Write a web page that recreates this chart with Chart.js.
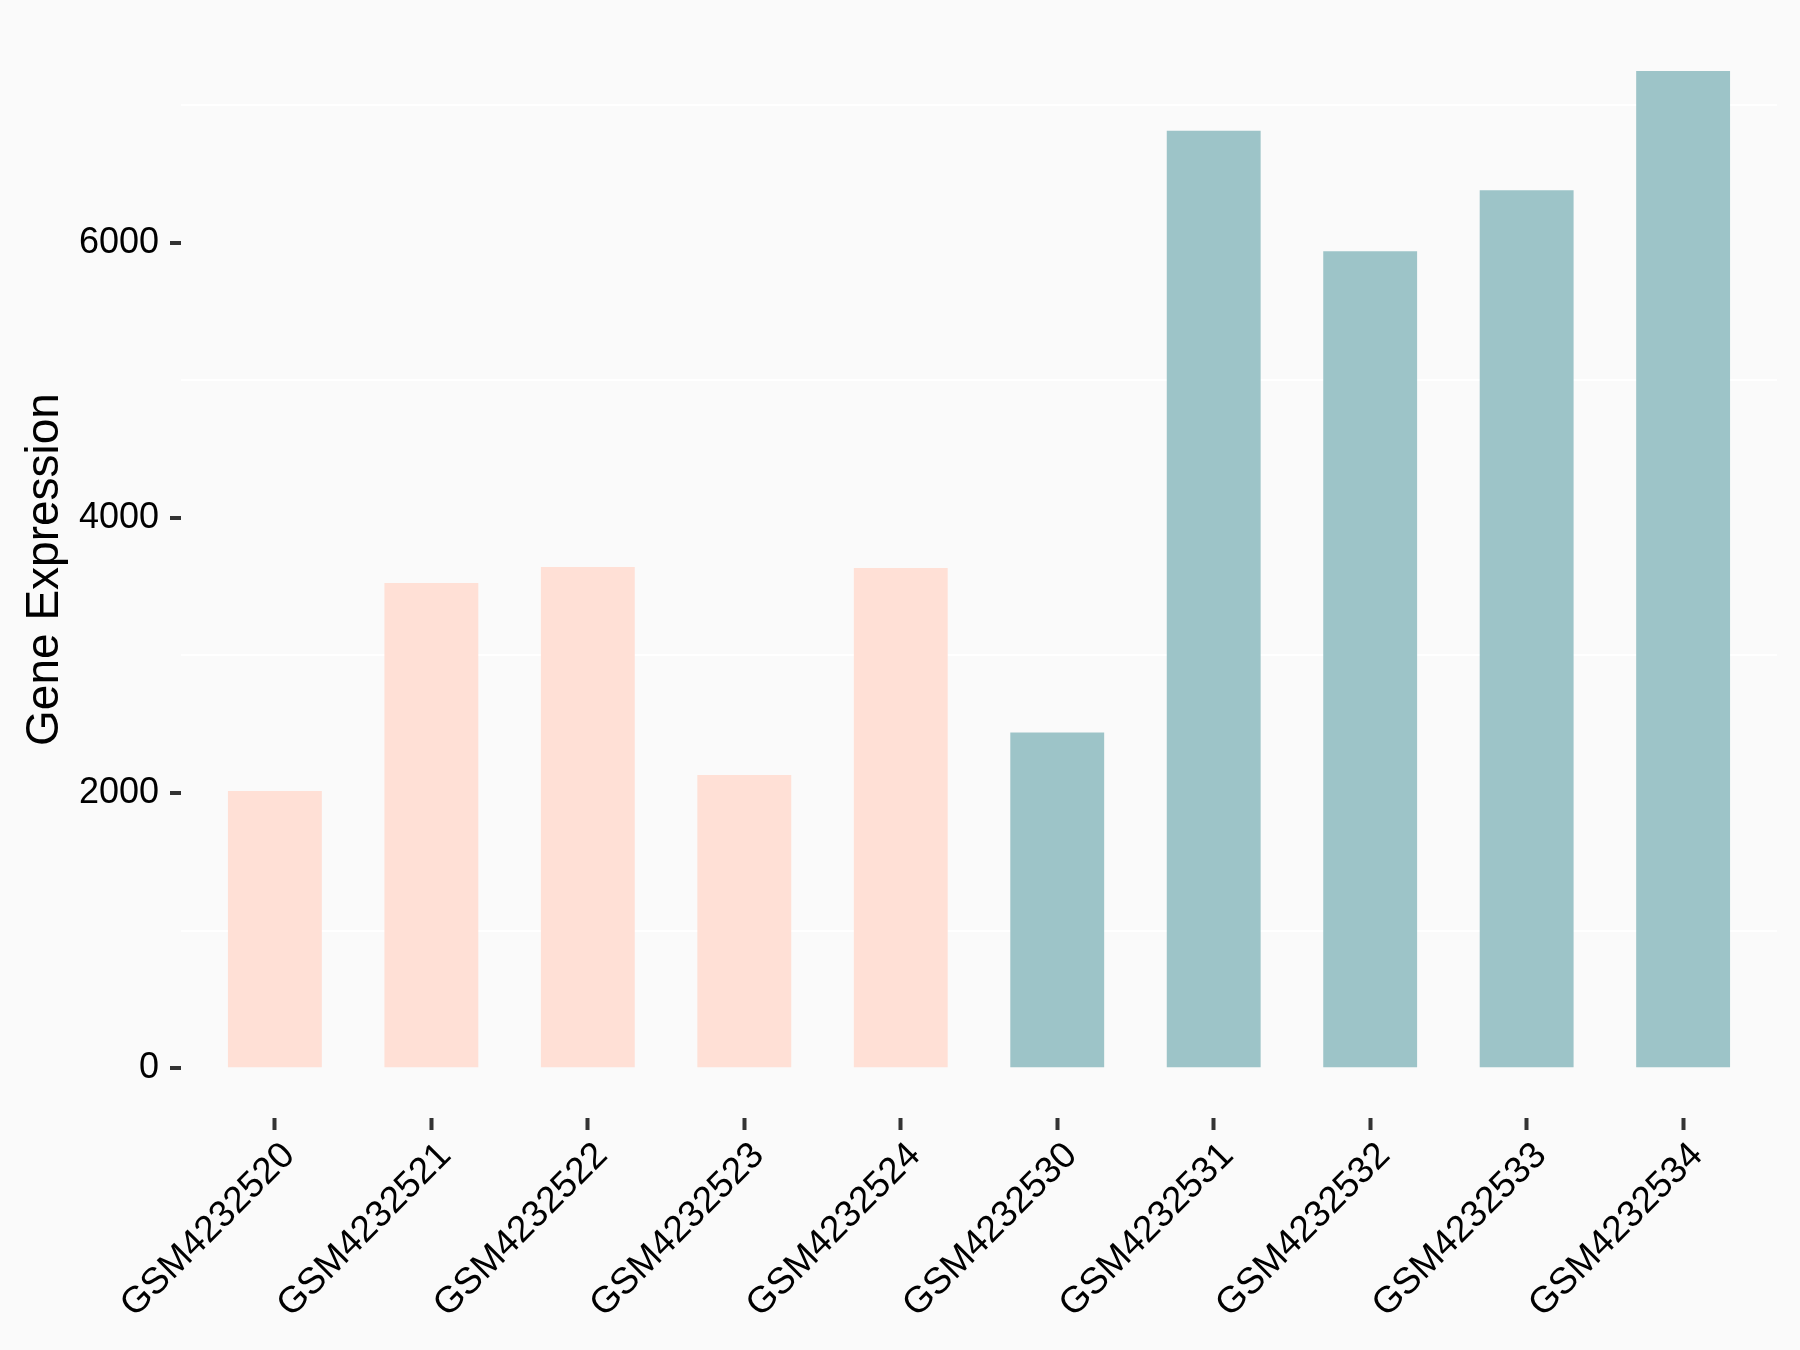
<!DOCTYPE html>
<html>
<head>
<meta charset="utf-8">
<script src="https://cdn.jsdelivr.net/npm/chart.js@4.4.1/dist/chart.umd.min.js"></script>
<style>
  html, body { margin: 0; padding: 0; background: #FAFAFA; }
  canvas { display: block; background: #FAFAFA; }
</style>
</head>
<body>
<canvas id="exprChart" width="1800" height="1350"></canvas>
<script>
/* ================= DATA ================= */
const samples = [
  "GSM4232520","GSM4232521","GSM4232522","GSM4232523","GSM4232524",
  "GSM4232530","GSM4232531","GSM4232532","GSM4232533","GSM4232534"
];

const expression = [2015, 3527, 3644, 2131, 3636, 2441, 6815, 5939, 6381, 7248];

// 0 = first group (pink), 1 = second group (teal)
const groups = [0, 0, 0, 0, 0, 1, 1, 1, 1, 1];
const groupColors = ["#FFE0D6", "#9DC4C8"];

const yLabelTicks = [0, 2000, 4000, 6000];
const yGridTicks = [1000, 3000, 5000, 7000];

const FONT = "'Liberation Sans', Arial, sans-serif";
const X_MIN = -0.6;
const X_MAX = samples.length - 0.4;

/* ================= CHART ================= */
const ctx = document.getElementById("exprChart").getContext("2d");

new Chart(ctx, {
  type: "bar",
  data: {
    datasets: [{
      data: samples.map((s, i) => ({ x: i, y: expression[i] })),
      backgroundColor: groups.map(g => groupColors[g]),
      borderWidth: 0,
      barPercentage: 0.6,
      categoryPercentage: 1
    }]
  },
  options: {
    responsive: false,
    animation: false,
    layout: { padding: { left: 18, top: 21, right: 23, bottom: 0 } },
    plugins: {
      legend: { display: false },
      tooltip: { enabled: false }
    },
    scales: {
      // tick marks only
      x: {
        type: "linear",
        offset: false,
        min: X_MIN,
        max: X_MAX,
        weight: 0,
        afterBuildTicks: scale => {
          scale.ticks = samples.map((s, i) => ({ value: i }));
        },
        afterFit: scale => { scale.height = 8; },
        border: { display: false },
        grid: {
          offset: false,
          drawOnChartArea: false,
          drawTicks: true,
          tickLength: 12,
          tickWidth: 4,
          tickColor: "#333333",
          color: "transparent"
        },
        ticks: { display: false }
      },
      // rotated sample labels, nudged right like ggplot's hjust
      xLabels: {
        type: "linear",
        position: "bottom",
        offset: false,
        min: X_MIN,
        max: X_MAX,
        weight: 1,
        afterBuildTicks: scale => {
          scale.ticks = samples.map((s, i) => ({ value: i + 0.09 }));
        },
        afterFit: scale => {
          scale.height = 224;
          scale.paddingLeft = 0;
          scale.paddingRight = 0;
        },
        border: { display: false },
        grid: { display: false },
        ticks: {
          autoSkip: false,
          maxRotation: 45,
          minRotation: 45,
          padding: 0,
          color: "#000000",
          font: { family: FONT, size: 37 },
          callback: v => samples[Math.round(v)]
        }
      },
      y: {
        min: -362,
        max: 7612,
        afterBuildTicks: scale => {
          scale.ticks = yLabelTicks.concat(yGridTicks)
            .sort((a, b) => a - b)
            .map(v => ({ value: v }));
        },
        afterFit: scale => {
          scale.width = 181 - 18;
          scale.paddingTop = 0;
          scale.paddingBottom = 0;
        },
        border: { display: false },
        grid: {
          color: c => yGridTicks.includes(c.tick.value) ? "#FFFFFF" : "transparent",
          lineWidth: 2,
          tickLength: 11,
          tickWidth: 4,
          tickColor: c => yLabelTicks.includes(c.tick.value) ? "#333333" : "transparent"
        },
        ticks: {
          padding: 11,
          color: "#000000",
          font: { family: FONT, size: 36 },
          callback: v => yLabelTicks.includes(v) ? String(v) : ""
        },
        title: {
          display: true,
          text: "Gene Expression",
          color: "#000000",
          padding: 0,
          font: { family: FONT, size: 46 }
        }
      }
    }
  }
});
</script>
</body>
</html>
